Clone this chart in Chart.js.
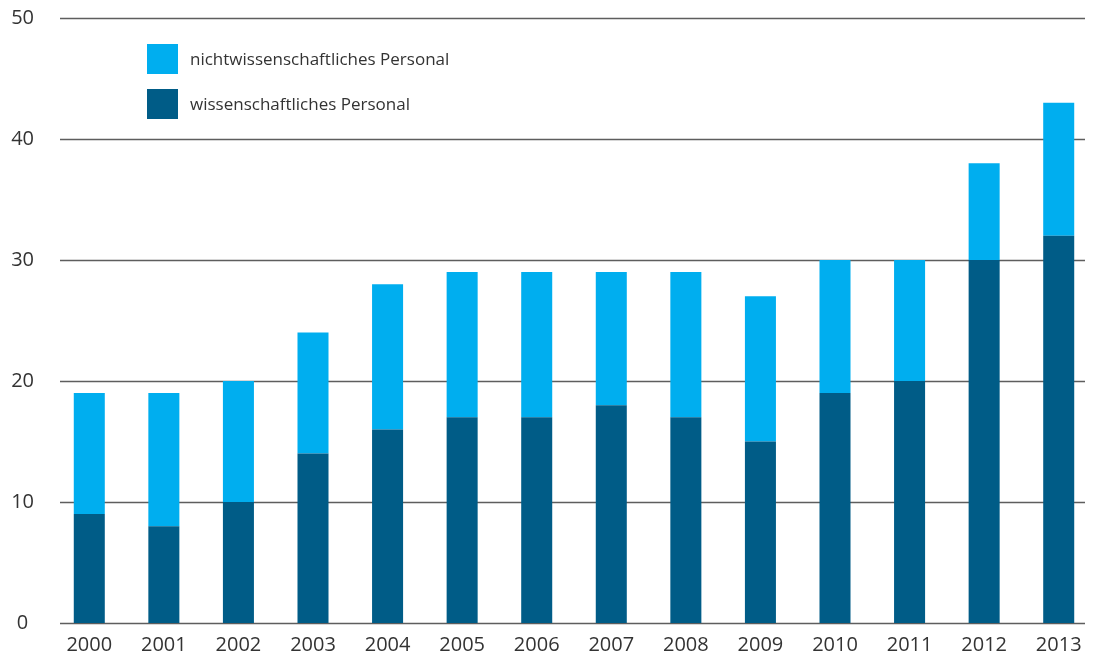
<!DOCTYPE html>
<html lang="de">
<head>
<meta charset="utf-8">
<script src="https://cdn.jsdelivr.net/npm/chart.js@4"></script>
<style>
  html, body { margin: 0; padding: 0; background: #fff; }
  #wrap { position: relative; width: 1098px; height: 656px; }
  .legende { position: absolute; left: 147px; font-family: 'Open Sans', sans-serif; font-size: 17px; color: #333; }
  .legende span.box { position: absolute; left: 0; width: 31px; height: 30px; }
  .legende span.txt { position: absolute; left: 43px; white-space: nowrap; line-height: 30px; }
</style>
</head>
<body>
<div id="wrap">
  <canvas id="chartBar" width="1098" height="656"></canvas>
  <div class="legende" style="top:44px"><span class="box" style="background:#00aeef"></span><span class="txt">nichtwissenschaftliches Personal</span></div>
  <div class="legende" style="top:89px"><span class="box" style="background:#005c87"></span><span class="txt">wissenschaftliches Personal</span></div>
</div>
<script>
"use strict";

var jahre      = ['2000','2001','2002','2003','2004','2005','2006','2007','2008','2009','2010','2011','2012','2013'];
var wissPers   = [9, 8, 10, 14, 16, 17, 17, 18, 17, 15, 19, 20, 30, 32];
var nichtWiss  = [10, 11, 10, 10, 12, 12, 12, 11, 12, 12, 11, 10, 8, 11];
var yTicks     = [0, 10, 20, 30, 40, 50];

// horizontale Linien nur von x=60 bis x=1085 wie im Original
var gitter = {
  id: 'gitter',
  beforeDatasetsDraw: function (chart) {
    var ctx = chart.ctx, y = chart.scales.y;
    ctx.save();
    ctx.strokeStyle = '#5e5e5e';
    ctx.lineWidth = 1.5;
    yTicks.forEach(function (v) {
      var py = Math.round(y.getPixelForValue(v)) + 0.5;
      ctx.beginPath();
      ctx.moveTo(60, py);
      ctx.lineTo(1085, py);
      ctx.stroke();
    });
    ctx.restore();
  }
};

new Chart(document.getElementById('chartBar'), {
  type: 'bar',
  data: {
    labels: jahre,
    datasets: [{
      label: 'wissenschaftliches Personal',
      data: wissPers,
      backgroundColor: '#005c87',
      barPercentage: 0.416,
      categoryPercentage: 1
    }, {
      label: 'nichtwissenschaftliches Personal',
      data: nichtWiss,
      backgroundColor: '#00aeef',
      barPercentage: 0.416,
      categoryPercentage: 1
    }]
  },
  options: {
    responsive: false,
    animation: false,
    layout: { padding: { left: 0, right: 2, top: 18, bottom: 0 } },
    plugins: { legend: { display: false }, tooltip: { enabled: false } },
    scales: {
      x: {
        stacked: true,
        afterFit: function (s) { s.height = 33; },
        grid: { display: false, drawTicks: false, tickLength: 0 },
        border: { display: false },
        ticks: { color: '#333', padding: 10, font: { family: "'Open Sans'", size: 20 } }
      },
      y: {
        stacked: true,
        min: 0, max: 50,
        afterFit: function (s) { s.width = 52; s.paddingTop = 0; s.paddingBottom = 0; },
        afterBuildTicks: function (s) { s.ticks = yTicks.map(function (v) { return { value: v }; }); },
        grid: { display: false, drawTicks: false, tickLength: 0 },
        border: { display: false },
        ticks: { color: '#333', padding: 18, crossAlign: 'center', font: { family: "'Open Sans'", size: 20 } }
      }
    }
  },
  plugins: [gitter]
});
</script>
</body>
</html>
